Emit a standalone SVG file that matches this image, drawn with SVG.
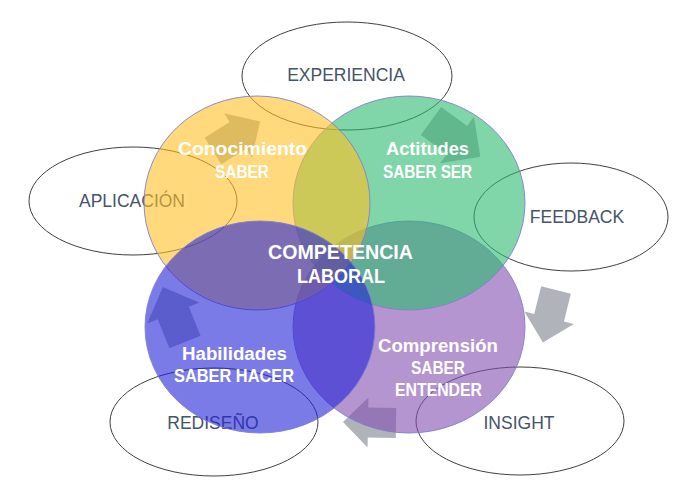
<svg xmlns="http://www.w3.org/2000/svg" width="693" height="493" viewBox="0 0 693 493">
  <defs>
    <style>
      .outer { fill: #ffffff; stroke: #404040; stroke-width: 1; }
      .otext { font-family: "Liberation Sans", Arial, sans-serif; font-size: 17.5px; fill: #44546A; text-anchor: middle; }
      .circ { fill-opacity: 0.6; stroke: #8080D0; stroke-width: 1; stroke-opacity: 0.9; }
      .ltext { font-family: "Liberation Sans", Arial, sans-serif; font-size: 18px; font-weight: bold; fill: #ffffff; text-anchor: middle; }
      .ctext { font-family: "Liberation Sans", Arial, sans-serif; font-size: 20px; font-weight: bold; fill: #ffffff; text-anchor: middle; }
      .arrow { fill: #B0B3BA; }
    </style>
    <path id="blockArrow" d="M0,-15 L28,-15 L28,-25 L53,0 L28,25 L28,15 L0,15 Z"/>
  </defs>

  <rect x="0" y="0" width="693" height="493" fill="#ffffff"/>

  <g id="node-experiencia">
    <ellipse class="outer" cx="347" cy="76" rx="105" ry="54"/>
    <text class="otext" x="346" y="81">EXPERIENCIA</text>
  </g>
  <g id="node-aplicacion">
    <ellipse class="outer" cx="133" cy="201" rx="104" ry="54"/>
    <text class="otext" x="132" y="207">APLICACIÓN</text>
  </g>
  <g id="node-feedback">
    <ellipse class="outer" cx="571" cy="217" rx="97" ry="54"/>
    <text class="otext" x="577" y="223">FEEDBACK</text>
  </g>
  <g id="node-rediseno">
    <ellipse class="outer" cx="214" cy="422" rx="104" ry="54"/>
    <text class="otext" x="213" y="429">REDISEÑO</text>
  </g>
  <g id="node-insight">
    <ellipse class="outer" cx="520" cy="421" rx="104" ry="54"/>
    <text class="otext" x="519" y="429">INSIGHT</text>
  </g>

  <g id="connectors">
    <use href="#blockArrow" class="arrow" transform="translate(213,151) rotate(-32) scale(1.05)"/>
    <use href="#blockArrow" class="arrow" transform="translate(431,121) rotate(36) scale(1.15)"/>
    <use href="#blockArrow" class="arrow" transform="translate(556,290) rotate(104) scale(1.02)"/>
    <use href="#blockArrow" class="arrow" transform="translate(396,423) rotate(181)"/>
    <use href="#blockArrow" class="arrow" transform="translate(185,342) rotate(-112) scale(1.12)"/>
  </g>

  <g id="node-comprension">
    <ellipse class="circ" cx="409" cy="327" rx="116" ry="106" fill="#824EB1"/>
    <text class="ltext" x="438" y="352" textLength="120" lengthAdjust="spacingAndGlyphs">Comprensión</text>
    <text class="ltext" x="438" y="374" textLength="54" lengthAdjust="spacingAndGlyphs">SABER</text>
    <text class="ltext" x="438.5" y="396" textLength="87" lengthAdjust="spacingAndGlyphs">ENTENDER</text>
  </g>
  <g id="node-actitudes">
    <ellipse class="circ" cx="409" cy="203" rx="116" ry="107" fill="#2BBB6E"/>
    <text class="ltext" x="427.5" y="155" textLength="83" lengthAdjust="spacingAndGlyphs">Actitudes</text>
    <text class="ltext" x="427.5" y="178" textLength="89" lengthAdjust="spacingAndGlyphs">SABER SER</text>
  </g>
  <g id="node-conocimiento">
    <ellipse class="circ" cx="257" cy="203" rx="113" ry="107" fill="#FFC025"/>
    <text class="ltext" x="242.5" y="155" textLength="129" lengthAdjust="spacingAndGlyphs">Conocimiento</text>
    <text class="ltext" x="242" y="178" textLength="54" lengthAdjust="spacingAndGlyphs">SABER</text>
  </g>
  <g id="node-habilidades">
    <ellipse class="circ" cx="260" cy="327" rx="115" ry="106" fill="#2323D9"/>
    <text class="ltext" x="234.5" y="360" textLength="105" lengthAdjust="spacingAndGlyphs">Habilidades</text>
    <text class="ltext" x="234" y="382" textLength="120" lengthAdjust="spacingAndGlyphs">SABER HACER</text>
  </g>

  <g id="node-competencia">
    <text class="ctext" x="340.5" y="259" textLength="145" lengthAdjust="spacingAndGlyphs">COMPETENCIA</text>
    <text class="ctext" x="341" y="283" textLength="88" lengthAdjust="spacingAndGlyphs">LABORAL</text>
  </g>
</svg>
